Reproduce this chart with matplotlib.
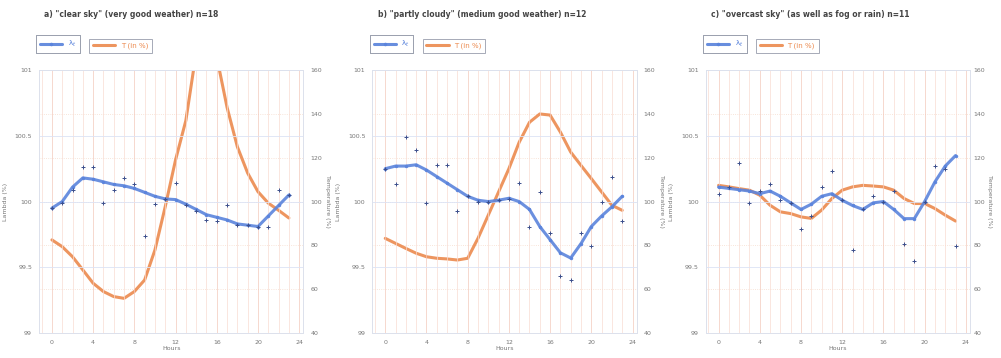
import numpy as np
import matplotlib
matplotlib.use("Agg")
import matplotlib.pyplot as plt
from matplotlib.ticker import MultipleLocator, FormatStrFormatter

hours = list(range(24))

titles = [
    'a) "clear sky" (very good weather) n=18',
    'b) "partly cloudy" (medium good weather) n=12',
    'c) "overcast sky" (as well as fog or rain) n=11',
]

# smoothed lambda (left axis, %)
lam_a = [99.95, 100.0, 100.11, 100.18, 100.17, 100.15, 100.13, 100.12, 100.10, 100.07, 100.04, 100.02,
         100.015, 99.98, 99.94, 99.90, 99.88, 99.86, 99.83, 99.82, 99.81, 99.89, 99.97, 100.05]
lam_b = [100.25, 100.27, 100.27, 100.28, 100.24, 100.19, 100.14, 100.09, 100.04, 100.01, 100.0, 100.01,
         100.025, 100.0, 99.94, 99.81, 99.71, 99.61, 99.57, 99.68, 99.81, 99.89, 99.96, 100.04]
lam_c = [100.11, 100.10, 100.09, 100.08, 100.06, 100.08, 100.04, 99.99, 99.94, 99.98, 100.04, 100.06,
         100.01, 99.97, 99.94, 99.99, 100.0, 99.94, 99.87, 99.87, 100.0, 100.15, 100.27, 100.35]

# hourly lambda measurements
pts_a = [99.95, 99.99, 100.09, 100.26, 100.26, 99.99, 100.09, 100.18, 100.13, 99.74, 99.98, 100.02,
         100.14, 99.97, 99.93, 99.86, 99.85, 99.97, 99.82, 99.82, 99.81, 99.81, 100.09, 100.05]
pts_b = [100.25, 100.13, 100.49, 100.39, 99.99, 100.28, 100.28, 99.93, 100.04, 100.0, 100.0, 100.01,
         100.02, 100.14, 99.81, 100.07, 99.76, 99.43, 99.40, 99.76, 99.66, 100.0, 100.19, 99.85]
pts_c = [100.06, 100.11, 100.29, 99.99, 100.08, 100.13, 100.01, 99.99, 99.79, 99.89, 100.11, 100.23,
         100.01, 99.63, 99.94, 100.04, 100.0, 100.08, 99.68, 99.55, 100.0, 100.27, 100.25, 99.66]

# temperature (right axis, %)
temp_a = [82.5, 79.4, 74.8, 68.8, 62.7, 58.9, 56.6, 55.8, 58.9, 64.2, 77.9, 97.7,
          119.0, 137.0, 168.0, 178.0, 166.0, 143.0, 125.0, 113.0, 104.5, 99.3, 96.0, 92.5]
temp_b = [83.2, 80.9, 78.6, 76.4, 74.8, 74.1, 73.8, 73.3, 74.1, 83.2, 93.8, 104.4,
          115.0, 127.1, 136.2, 140.0, 139.5, 131.7, 122.6, 116.5, 110.5, 104.4, 98.3, 96.0]
temp_c = [107.4, 106.7, 105.9, 105.2, 102.9, 98.3, 95.3, 94.5, 93.0, 92.3, 96.1, 101.4,
          105.2, 106.7, 107.4, 107.1, 106.7, 105.2, 101.4, 99.1, 99.1, 96.8, 93.8, 91.1]

lam_lines = [lam_a, lam_b, lam_c]
lam_pts = [pts_a, pts_b, pts_c]
temps = [temp_a, temp_b, temp_c]

BLUE = "#5b84dc"
ORANGE = "#ec8a4e"
TXT = "#777777"

fig = plt.figure(figsize=(10.01, 3.58), dpi=100)
lefts = [0.039, 0.372, 0.705]

for i in range(3):
    ax = fig.add_axes([lefts[i], 0.070, 0.264, 0.734])
    ax2 = ax.twinx()
    ax.set_zorder(ax2.get_zorder() + 1)
    ax.patch.set_visible(False)

    ax.set_xlim(-1.25, 24.4)
    ax.set_ylim(99, 101)
    ax2.set_ylim(40, 160)
    ax.xaxis.set_major_locator(MultipleLocator(4))
    ax.xaxis.set_minor_locator(MultipleLocator(1))
    ax.yaxis.set_major_locator(MultipleLocator(0.5))
    ax.yaxis.set_major_formatter(FormatStrFormatter("%g"))
    ax2.yaxis.set_major_locator(MultipleLocator(20))

    ax.grid(True, which="minor", axis="x", color="#f8dcd2", lw=0.5)
    ax.grid(True, which="major", axis="x", color="#f3c9bb", lw=0.5)
    ax.grid(True, which="major", axis="y", color="#dce3f5", lw=0.6)
    ax2.grid(True, which="major", axis="y", color="#f6dccd", lw=0.6, ls=":")

    for a in (ax, ax2):
        for s in a.spines.values():
            s.set_color("#dde1ec")
            s.set_linewidth(0.6)
        a.tick_params(labelsize=4.5, colors=TXT, length=0, pad=5)
        a.tick_params(which="minor", length=0)
    if i == 2:
        ax2.tick_params(pad=2.5)

    l2, = ax2.plot(hours, temps[i], color=ORANGE, lw=2.2, alpha=0.9,
                   solid_capstyle="round", label="T (in %)")
    l1, = ax.plot(hours, lam_lines[i], color=BLUE, lw=2.2, alpha=0.9,
                  marker="o", ms=1.5, solid_capstyle="round", label="λ$_t$")
    ax.plot(hours, lam_pts[i], ls="none", marker="+", ms=2.5, mew=0.7,
            color="#3c4f8c")

    ax.set_xlabel("Hours", fontsize=4.5, color=TXT, labelpad=1)
    ax.set_ylabel("Lambda (%)", fontsize=4.5, color=TXT, labelpad=5)
    ax2.set_ylabel("Temperature (%)", fontsize=4.5, color=TXT, rotation=270,
                   labelpad=6 if i < 2 else 5)

    ax.text(0.02, 1.21, titles[i], transform=ax.transAxes, fontsize=5.5,
            fontweight="bold", color="#444444", ha="left", va="center")

    leg1 = ax.legend(handles=[l1], loc="lower left", bbox_to_anchor=(-0.01, 1.065),
                     fontsize=5, frameon=True, fancybox=False, handlelength=3.2,
                     borderpad=0.55, borderaxespad=0, labelcolor=BLUE)
    leg1.get_frame().set_edgecolor("#8f95a5")
    leg1.get_frame().set_linewidth(0.7)
    ax.add_artist(leg1)
    leg2 = ax2.legend(handles=[l2], loc="lower left", bbox_to_anchor=(0.19, 1.065),
                      fontsize=5, frameon=True, fancybox=False, handlelength=3.2,
                      borderpad=0.55, borderaxespad=0, labelcolor=ORANGE)
    leg2.get_frame().set_edgecolor("#8f95a5")
    leg2.get_frame().set_linewidth(0.7)

fig.savefig("out.png", dpi=100)
